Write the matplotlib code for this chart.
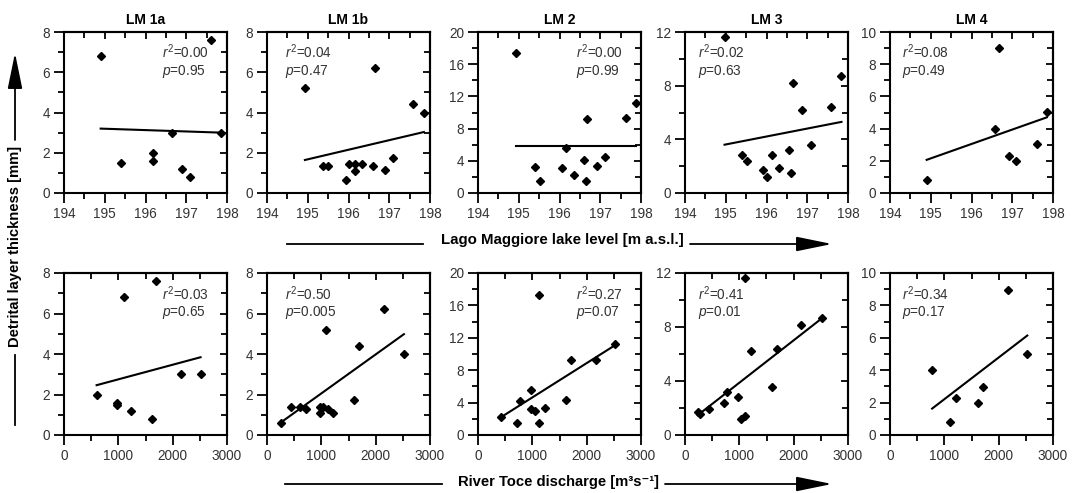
import matplotlib
matplotlib.use('Agg')
import matplotlib.pyplot as plt
from matplotlib.ticker import MultipleLocator
from matplotlib.lines import Line2D

plt.rcParams['font.family'] = ['Liberation Sans', 'DejaVu Sans']
plt.rcParams['mathtext.fontset'] = 'custom'
plt.rcParams['mathtext.rm'] = 'Liberation Sans'
plt.rcParams['mathtext.it'] = 'Liberation Sans:italic'

cores = ['LM 1a', 'LM 1b', 'LM 2', 'LM 3', 'LM 4']

# lake level [m a.s.l.] -> detrital layer thickness [mm]
lvl_1a_x = [194.9, 197.6, 195.4, 196.18, 196.18, 196.65, 196.89, 197.09, 197.85]
lvl_1a_y = [6.8, 7.6, 1.5, 2.0, 1.6, 3.0, 1.2, 0.8, 3.0]
lvl_1b_x = [194.93, 196.64, 197.59, 197.85, 195.38, 195.5, 195.93, 196.0, 196.16,
            196.16, 196.32, 196.61, 196.89, 197.09]
lvl_1b_y = [5.2, 6.2, 4.4, 4.0, 1.32, 1.32, 0.63, 1.42, 1.42, 1.1, 1.42, 1.32, 1.13, 1.75]
lvl_2_x = [194.93, 195.41, 195.53, 196.05, 196.17, 196.35, 196.6, 196.64, 196.67,
           196.93, 197.11, 197.62, 197.87]
lvl_2_y = [17.4, 3.26, 1.44, 3.05, 5.6, 2.27, 4.12, 1.44, 9.2, 3.34, 4.41, 9.28, 11.2]
lvl_3_x = [194.97, 195.4, 195.51, 195.92, 196.0, 196.14, 196.3, 196.55, 196.6,
           196.64, 196.88, 197.08, 197.58, 197.84]
lvl_3_y = [11.6, 2.8, 2.38, 1.71, 1.21, 2.8, 1.9, 3.19, 1.46, 8.19, 6.21, 3.59, 6.4, 8.7]
lvl_4_x = [194.9, 196.57, 196.67, 196.91, 197.1, 197.6, 197.85]
lvl_4_y = [0.82, 4.0, 9.03, 2.29, 2.0, 3.03, 5.03]

# River Toce discharge [m3/s] -> detrital layer thickness [mm]
dis_1a_x = [1100, 1700, 600, 970, 980, 1226, 1620, 2150, 2513]
dis_1a_y = [6.8, 7.6, 2.0, 1.6, 1.5, 1.2, 0.8, 3.0, 3.0]
dis_1b_x = [250, 443, 615, 719, 971, 971, 1033, 1125, 1211, 1094, 1697, 1598, 2151, 2520]
dis_1b_y = [0.6, 1.4, 1.4, 1.27, 1.37, 1.1, 1.4, 1.27, 1.1, 5.2, 4.4, 1.75, 6.2, 4.0]
dis_2_x = [424, 711, 767, 979, 979, 1042, 1116, 1116, 1229, 1615, 1715, 2164, 2526]
dis_2_y = [2.2, 1.44, 4.16, 5.6, 3.2, 2.97, 17.3, 1.44, 3.3, 4.37, 9.3, 9.2, 11.2]
dis_3_x = [245, 276, 436, 718, 779, 975, 1031, 1104, 1098, 1215, 1607, 1687, 2141, 2521]
dis_3_y = [1.71, 1.56, 1.9, 2.38, 3.19, 2.8, 1.19, 1.41, 11.6, 6.19, 3.59, 6.39, 8.14, 8.7]
dis_4_x = [775, 1107, 1217, 1611, 1709, 2164, 2527]
dis_4_y = [4.0, 0.78, 2.29, 2.0, 2.99, 8.95, 4.99]

# regression line values at start / end of each data range
lvl_fit = [(3.2, 3.0), (1.64, 3.03), (5.9, 5.9), (3.6, 5.3), (2.06, 4.7)]
dis_fit = [(2.46, 3.84), (0.61, 4.98), (2.2, 11.1), (1.5, 8.65), (1.63, 6.14)]

lvl_r2 = ['0.00', '0.04', '0.00', '0.02', '0.08']
lvl_p = ['0.95', '0.47', '0.99', '0.63', '0.49']
dis_r2 = ['0.03', '0.50', '0.27', '0.41', '0.34']
dis_p = ['0.65', '0.005', '0.07', '0.01', '0.17']

ymax = [8, 8, 20, 12, 10]
ystep = [2, 2, 4, 4, 2]
stat_x = [0.6, 0.11, 0.6, 0.08, 0.075]

lvl_x = [lvl_1a_x, lvl_1b_x, lvl_2_x, lvl_3_x, lvl_4_x]
lvl_y = [lvl_1a_y, lvl_1b_y, lvl_2_y, lvl_3_y, lvl_4_y]
dis_x = [dis_1a_x, dis_1b_x, dis_2_x, dis_3_x, dis_4_x]
dis_y = [dis_1a_y, dis_1b_y, dis_2_y, dis_3_y, dis_4_y]

W, H = 1074, 493
fig = plt.figure(figsize=(W / 100, H / 100), dpi=100)

col_left = [64, 267, 478, 685, 890]
col_w = 163
rows = [(32, 193), (273, 435)]

tick_col = '#333333'


def setup(ax, xlim, xmaj, ylim, ymaj):
    ax.set_xlim(*xlim)
    ax.set_ylim(*ylim)
    for s in ax.spines.values():
        s.set_linewidth(1.5)
    for axis, maj in ((ax.xaxis, xmaj), (ax.yaxis, ymaj)):
        axis.set_major_locator(MultipleLocator(maj))
        axis.set_minor_locator(MultipleLocator(maj / 2))
    ax.tick_params(which='major', direction='out', length=7, width=1.3,
                   labelsize=9.8, labelcolor=tick_col, pad=3)
    ax.tick_params(which='minor', direction='out', length=4, width=1.3)
    sx = ax.secondary_xaxis('top')
    sy = ax.secondary_yaxis('right')
    for sec, axis, maj in ((sx, sx.xaxis, xmaj), (sy, sy.yaxis, ymaj)):
        axis.set_major_locator(MultipleLocator(maj))
        axis.set_minor_locator(MultipleLocator(maj / 2))
        sec.tick_params(which='major', direction='in', length=5, width=1.3,
                        labeltop=False, labelright=False)
        sec.tick_params(which='minor', direction='in', length=4, width=1.3)
        for s in sec.spines.values():
            s.set_linewidth(1.5)


for r, (top, bot) in enumerate(rows):
    for i in range(5):
        ax = fig.add_axes([col_left[i] / W, (H - bot) / H, col_w / W, (bot - top) / H])
        if r == 0:
            xs, ys, fit, r2, p = lvl_x[i], lvl_y[i], lvl_fit[i], lvl_r2[i], lvl_p[i]
            setup(ax, (194, 198), 1, (0, ymax[i]), ystep[i])
            ax.set_title(cores[i], fontsize=10, fontweight='bold', pad=6)
        else:
            xs, ys, fit, r2, p = dis_x[i], dis_y[i], dis_fit[i], dis_r2[i], dis_p[i]
            setup(ax, (0, 3000), 1000, (0, ymax[i]), ystep[i])
        ax.plot([min(xs), max(xs)], list(fit), color='black', lw=1.5)
        ax.plot(xs, ys, linestyle='none', marker='D', ms=3.9, color='black', clip_on=False)
        ax.text(stat_x[i], 0.875, r'$\it{r}^2$=' + r2, transform=ax.transAxes,
                fontsize=9.8, color=tick_col, va='center', ha='left')
        ax.text(stat_x[i], 0.757, r'$\it{p}$=' + p, transform=ax.transAxes,
                fontsize=9.8, color=tick_col, va='center', ha='left')


def px(x, y):
    return (x, H - y)


def hline(x0, x1, y):
    fig.add_artist(Line2D([x0 / W, x1 / W], [(H - y) / H] * 2, color='black', lw=1.3,
                          transform=fig.transFigure))


def arrow(p0, p1):
    fig.add_artist(matplotlib.patches.FancyArrowPatch(
        px(*p0), px(*p1), transform=None, arrowstyle='-|>,head_length=2.2,head_width=0.45',
        mutation_scale=10, color='black', lw=1.3, shrinkA=0, shrinkB=0))


# x axis labels
fig.text(562 / W, (H - 240) / H, 'Lago Maggiore lake level [m a.s.l.]', fontsize=10.8,
         fontweight='bold', ha='center', va='center')
hline(287, 423, 244)
arrow((690, 244), (832, 244))

fig.text(558 / W, (H - 482) / H, 'River Toce discharge [m³s⁻¹]', fontsize=10.6,
         fontweight='bold', ha='center', va='center')
hline(285, 442, 484)
arrow((665, 484), (832, 484))

# y axis label
fig.text(15 / W, (H - 246) / H, 'Detrital layer thickness [mm]', fontsize=10.6,
         fontweight='bold', ha='center', va='center', rotation=90)
arrow((15, 140), (15, 53))
fig.add_artist(Line2D([15 / W] * 2, [(H - 355) / H, (H - 425) / H], color='black', lw=1.3,
                      transform=fig.transFigure))

fig.savefig('out.png', dpi=100)
